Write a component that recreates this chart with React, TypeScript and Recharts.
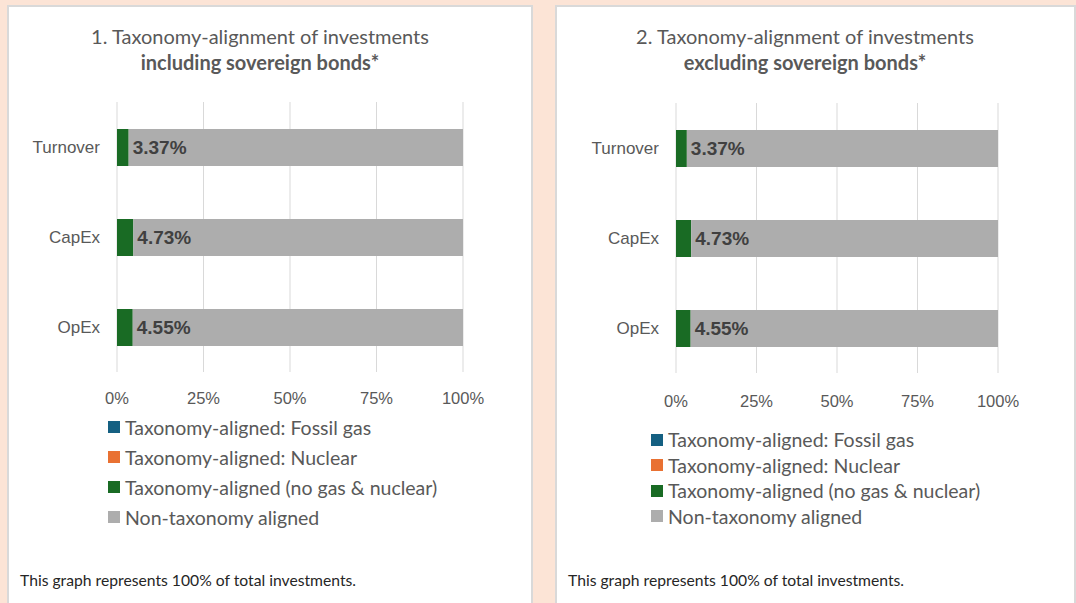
import { Bar, BarChart, CartesianGrid, LabelList, XAxis, YAxis } from 'recharts';

const CATEGORIES = ['Turnover', 'CapEx', 'OpEx'];
const FOSSIL_GAS = [0, 0, 0];
const NUCLEAR = [0, 0, 0];
const ALIGNED = [3.37, 4.73, 4.55];
const NON_ALIGNED = [96.63, 95.27, 95.45];
const X_TICKS = [0, 25, 50, 75, 100];

const SERIES = [
  { key: 'gas', name: 'Taxonomy-aligned: Fossil gas', color: '#156082', values: FOSSIL_GAS },
  { key: 'nuclear', name: 'Taxonomy-aligned: Nuclear', color: '#E97132', values: NUCLEAR },
  { key: 'aligned', name: 'Taxonomy-aligned (no gas & nuclear)', color: '#196B24', values: ALIGNED },
  { key: 'other', name: 'Non-taxonomy aligned', color: '#ADADAD', values: NON_ALIGNED },
];

const rows = CATEGORIES.map((name, i) => {
  const row: Record<string, string | number> = { name };
  SERIES.forEach((s) => {
    row[s.key] = s.values[i];
  });
  return row;
});

const TEXT = '#595959';
const GRID = '#d9d9d9';
const SANS = 'Lato, sans-serif';
const ARIAL = '"Liberation Sans", Arial, sans-serif';

interface PanelProps {
  left: number;
  width: number;
  number: string;
  subtitle: string;
  titleX: number;
  chartLeft: number;
  chartWidth: number;
  axisWidth: number;
  plotTop: number;
  marginRight: number;
  xTickMargin: number;
  legendLeft: number;
  legendTop: number;
  legendRow: number;
}

function Panel(p: PanelProps) {
  return (
    <>
      <div
        style={{
          position: 'absolute',
          left: p.left,
          top: 5,
          width: p.width,
          height: 640,
          boxSizing: 'border-box',
          border: `2px solid ${GRID}`,
          background: '#fff',
        }}
      />
      <div
        style={{
          position: 'absolute',
          left: p.titleX - 250,
          top: 23,
          width: 500,
          textAlign: 'center',
          fontFamily: SANS,
          fontSize: 20,
          lineHeight: '26px',
          color: TEXT,
        }}
      >
        <div>{p.number}. Taxonomy-alignment of investments</div>
        <div style={{ fontWeight: 700 }}>{p.subtitle}</div>
      </div>
      <div style={{ position: 'absolute', left: p.chartLeft, top: 90 }}>
        <BarChart
          width={p.chartWidth}
          height={p.plotTop - 90 + 270 + 48}
          data={rows}
          layout="vertical"
          margin={{ top: p.plotTop - 90, right: p.marginRight, left: 0, bottom: 0 }}
        >
          <CartesianGrid horizontal={false} stroke={GRID} />
          <XAxis
            type="number"
            domain={[0, 100]}
            ticks={X_TICKS}
            tickFormatter={(v: number) => `${v}%`}
            axisLine={false}
            tickLine={false}
            tickSize={0}
            tickMargin={p.xTickMargin}
            height={48}
            tick={{ fill: TEXT, fontSize: 16.5, fontFamily: ARIAL }}
            interval={0}
          />
          <YAxis
            type="category"
            dataKey="name"
            width={p.axisWidth}
            axisLine={false}
            tickLine={false}
            tickSize={0}
            tickMargin={17}
            tick={{ fill: TEXT, fontSize: 17, fontFamily: ARIAL }}
          />
          {SERIES.map((s) => (
            <Bar key={s.key} dataKey={s.key} name={s.name} stackId="a" fill={s.color} barSize={37} isAnimationActive={false}>
              {s.key === 'aligned' && (
                <LabelList
                  dataKey="aligned"
                  position="right"
                  offset={4}
                  formatter={(v: number) => `${v.toFixed(2)}%`}
                  style={{ fill: '#404040', fontSize: 19, fontWeight: 700, fontFamily: ARIAL }}
                />
              )}
            </Bar>
          ))}
        </BarChart>
      </div>
      <div style={{ position: 'absolute', left: p.legendLeft, top: p.legendTop, fontFamily: SANS, fontSize: 19.5, color: TEXT }}>
        {SERIES.map((s) => (
          <div key={s.key} style={{ height: p.legendRow, display: 'flex', alignItems: 'center', whiteSpace: 'nowrap' }}>
            <span style={{ width: 12, height: 12, background: s.color, marginRight: 5, display: 'inline-block' }} />
            {s.name}
          </div>
        ))}
      </div>
      <div
        style={{
          position: 'absolute',
          left: p.left + 13,
          top: 571,
          fontFamily: SANS,
          fontSize: 15.7,
          color: '#262626',
          whiteSpace: 'nowrap',
        }}
      >
        This graph represents 100% of total investments.
      </div>
    </>
  );
}

export default function App() {
  return (
    <div
      style={{
        position: 'absolute',
        left: 0,
        top: 0,
        width: 1076,
        height: 603,
        overflow: 'hidden',
        background: '#FCE4D6',
      }}
    >
      <Panel
        left={7}
        width={526}
        number="1"
        subtitle="including sovereign bonds*"
        titleX={260}
        chartLeft={0}
        chartWidth={530}
        axisWidth={117}
        plotTop={102}
        marginRight={67}
        xTickMargin={20}
        legendLeft={108}
        legendTop={412}
        legendRow={30}
      />
      <Panel
        left={555}
        width={521}
        number="2"
        subtitle="excluding sovereign bonds*"
        titleX={805}
        chartLeft={556}
        chartWidth={518}
        axisWidth={120}
        plotTop={103}
        marginRight={76}
        xTickMargin={22}
        legendLeft={651}
        legendTop={427}
        legendRow={25.5}
      />
    </div>
  );
}
